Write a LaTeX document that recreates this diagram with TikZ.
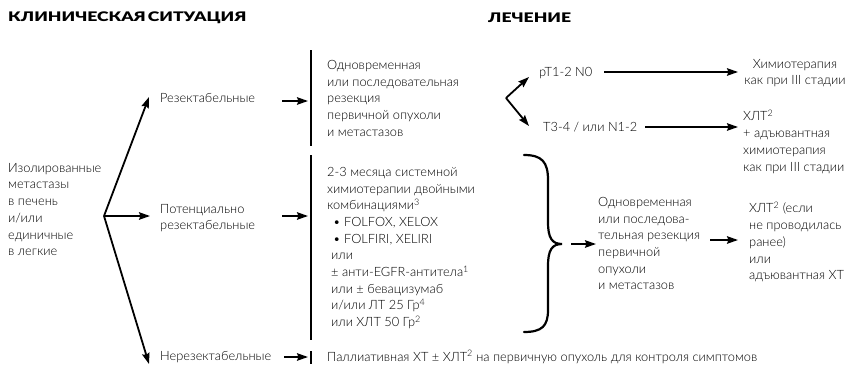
\documentclass[tikz,border=0pt]{standalone}
\usepackage{fontspec}
\setmainfont{Lato Light}[BoldFont={Lato Black}]
\newfontfamily\hdrfont{Lato Black}[FakeStretch=1.33]
\usetikzlibrary{arrows.meta}
\newcommand{\fs}{\fontsize{12.8}{16.7}\selectfont}
\tikzset{
  txt/.style={inner sep=0pt, align=left, font=\fs},
  hdr/.style={inner sep=0pt, anchor=west, font=\fontsize{13.2}{15}\hdrfont},
  arr/.style={line width=1.8pt, -{Stealth[length=11pt,width=7.5pt,inset=1.5pt]}},
  barline/.style={line width=2.4pt},
  bracepath/.style={line width=2.2pt, line cap=round}
}
\begin{document}
\begin{tikzpicture}[x=1pt,y=-1pt]
\useasboundingbox (0,0) rectangle (851,372);
% headers
\node[hdr] (h1) at (8,18) {КЛИНИЧЕСКАЯ\hspace{2pt}СИТУАЦИЯ};
\node[hdr] (h2) at (488,18) {ЛЕЧЕНИЕ};
% left column
\node[txt, anchor=north west] (iso) at (8,163) {Изолированные\\метастазы\\в печень\\и/или\\единичные\\в легкие};
\coordinate (o) at (104,216);
\node[txt, anchor=west] (res) at (160,98) {Резектабельные};
\node[txt, anchor=north west] (pot) at (160,204) {Потенциально\\резектабельные};
\node[txt, anchor=west] (nres) at (160,357) {Нерезектабельные};
\draw[arr] (o) -- ([xshift=-11pt,yshift=1pt]res.west);
\draw[arr] (o) -- ([xshift=-10pt]pot.west |- o);
\draw[arr] (o) -- ([xshift=-11pt,yshift=-7pt]nres.west);
% bars
\coordinate (b1t) at (311,50); \coordinate (b1b) at (311,146);
\coordinate (b2t) at (311,155); \coordinate (b2b) at (311,340);
\coordinate (b3t) at (311,351); \coordinate (b3b) at (311,364);
\draw[barline] (b1t) -- (b1b);
\draw[barline] (b2t) -- (b2b);
\draw[barline] (b3t) -- (b3b);
\coordinate (a1s) at (282,101); \coordinate (a1e) at (308,101);
\coordinate (a2s) at (282,216); \coordinate (a2e) at (308,216);
\coordinate (a3s) at (284,357); \coordinate (a3e) at (308,357);
\draw[arr] (a1s) -- (a1e);
\draw[arr] (a2s) -- (a2e);
\draw[arr] (a3s) -- (a3e);
% treatment texts
\node[txt, anchor=north west] (tb1) at (327,60) {Одновременная\\или последовательная\\резекция\\первичной опухоли\\и метастазов};
\node[txt, anchor=north west] (tb2) at (327,167) {2-3 месяца системной\\химиотерапии двойными\\комбинациями\textsuperscript{3}\\
\hspace*{6pt}• FOLFOX, XELOX\\\hspace*{6pt}• FOLFIRI, XELIRI\\\hspace*{4pt}или\\\hspace*{4pt}± анти-EGFR-антитела\textsuperscript{1}\\
\hspace*{4pt}или ± бевацизумаб\\\hspace*{4pt}и/или ЛТ 25 Гр\textsuperscript{4}\\\hspace*{4pt}или ХЛТ 50 Гр\textsuperscript{2}};
\node[txt, anchor=west] (tb3) at (327,357) {Паллиативная ХТ ± ХЛТ\textsuperscript{2} на первичную опухоль для контроля симптомов};
% fork
\coordinate (v) at (506,98);
\node[txt, anchor=west] (pt) at (539,73) {pT1-2 N0};
\node[txt, anchor=west] (t3) at (543,127) {T3-4 / или N1-2};
\draw[arr] (v) -- ([xshift=-10pt,yshift=-4pt]pt.west);
\draw[arr] (v) -- ([xshift=-14pt,yshift=1pt]t3.west);
\node[txt, anchor=north, align=center] (chemo) at (795,59) {Химиотерапия\\как при III стадии};
\node[txt, anchor=north west] (xlt) at (743,110) {ХЛТ\textsuperscript{2}\\+ адъювантная\\химиотерапия\\как при III стадии};
\draw[arr] ([xshift=12pt]pt.east |- 0,72) -- (738,72);
\draw[arr] ([xshift=8pt]t3.east) -- (738,127);
% brace
\draw[bracepath] (524,155) .. controls (542,155) and (548,162) .. (548,180) -- (548,222)
  .. controls (548,238) and (552,244) .. (562,244)
  .. controls (552,244) and (548,250) .. (548,266) -- (548,310)
  .. controls (548,326) and (542,332) .. (524,332);
\coordinate (tip) at (571,244);
\node[txt, anchor=north west] (tb4) at (598,197) {Одновременная\\или последова-\\тельная резекция\\первичной\\опухоли\\и метастазов};
\draw[arr] (tip) -- ([xshift=-2pt]tb4.west |- tip);
\node[txt, anchor=north west] (tb5) at (749,202) {ХЛТ\textsuperscript{2} (если\\не проводилась\\ранее)\\или\\адъювантная ХТ};
\coordinate (a5s) at (710,240);
\draw[arr] (a5s) -- ([xshift=-11pt]tb5.west |- a5s);
\end{tikzpicture}
\end{document}
